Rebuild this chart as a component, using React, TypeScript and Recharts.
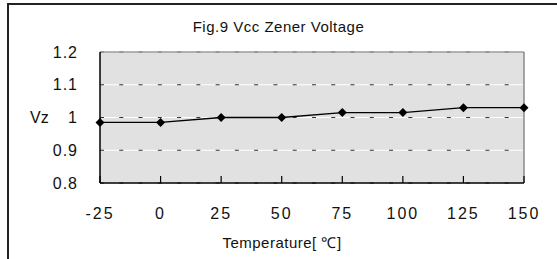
import { CartesianGrid, Label, Line, LineChart, ReferenceLine, XAxis, YAxis } from 'recharts'

const temps = [-25, 0, 25, 50, 75, 100, 125, 150]
const vz = [0.985, 0.985, 1.0, 1.0, 1.015, 1.015, 1.03, 1.03]
const yTicks = [0.8, 0.9, 1.0, 1.1, 1.2]

const data = temps.map((t, i) => ({ t, vz: vz[i] }))

const font = '"Liberation Sans", Arial, sans-serif'

function Diamond(props: any) {
  const { cx, cy } = props
  if (cx == null || cy == null) return null
  const r = 4.5
  return <polygon points={`${cx},${cy - r} ${cx + r},${cy} ${cx},${cy + r} ${cx - r},${cy}`} fill="#000" />
}

function XTick(props: any) {
  const { x, y, payload } = props
  return (
    <g>
      <line x1={x} x2={x} y1={y} y2={y - 7} stroke="#000" strokeWidth={1.2} />
      <text x={x} y={y + 30} textAnchor="middle" dominantBaseline="central" fontSize={16} letterSpacing={2} fill="#111" fontFamily={font}>
        {payload.value}
      </text>
    </g>
  )
}

export default function App() {
  return (
    <div style={{ position: 'absolute', left: 0, top: 0, width: 557, height: 259, background: '#fff', fontFamily: font, overflow: 'hidden' }}>
      <div style={{ position: 'absolute', left: 7, top: 3, width: 600, height: 300, borderTop: '2px solid #222', borderLeft: '2px solid #222' }} />
      <div style={{ position: 'absolute', left: 0, top: 18, width: 557, textAlign: 'center', fontSize: 15, letterSpacing: 0.5, color: '#111' }}>
        Fig.9 Vcc Zener Voltage
      </div>
      <div style={{ position: 'absolute', left: 0, top: 232, width: 564, textAlign: 'center', fontSize: 15, letterSpacing: 0.5, color: '#111' }}>
        Temperature[ ℃]
      </div>
      <div style={{ position: 'absolute', left: 0, top: 0 }}>
        <LineChart width={557} height={259} data={data} margin={{ top: 52, right: 33, bottom: 0, left: 0 }}>
          <CartesianGrid vertical={false} fill="#e1e1e1" stroke="#fff" strokeWidth={1.2} />
          <ReferenceLine y={1.2} stroke="#9a9a9a" strokeWidth={1.5} />
          <ReferenceLine x={150} stroke="#8a8a8a" strokeWidth={1.5} />
          <CartesianGrid vertical={false} stroke="#333" strokeDasharray="4 15.27" />
          <XAxis
            dataKey="t"
            type="number"
            domain={[-25, 150]}
            ticks={temps}
            height={76}
            tickSize={0}
            tickMargin={0}
            tickLine={false}
            tick={<XTick />}
            axisLine={{ stroke: '#000', strokeWidth: 1.5 }}
          />
          <YAxis
            type="number"
            domain={[0.8, 1.2]}
            ticks={yTicks}
            width={100}
            tickSize={0}
            tickMargin={22}
            tickLine={false}
            tickFormatter={(v: number) => (v === 1 ? '1' : v.toFixed(1))}
            tick={{ fontSize: 16, fill: '#111', fontFamily: font, letterSpacing: 1 }}
            axisLine={{ stroke: '#000', strokeWidth: 1.5 }}
          >
            <Label value="Vz" position="insideLeft" offset={30} angle={0} fontSize={16} fill="#111" fontFamily={font} />
          </YAxis>
          <Line dataKey="vz" stroke="#000" strokeWidth={1.3} dot={<Diamond />} activeDot={false} isAnimationActive={false} />
        </LineChart>
      </div>
    </div>
  )
}
